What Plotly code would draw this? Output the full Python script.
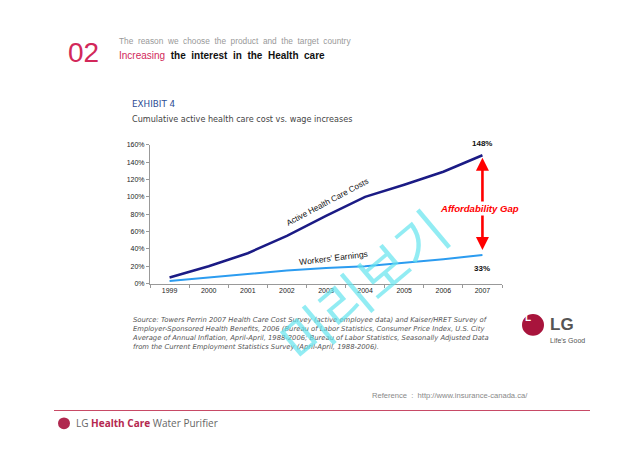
import plotly.graph_objects as go

years = ["1999", "2000", "2001", "2002", "2003", "2004", "2005", "2006", "2007"]
health_costs = [0.07, 0.20, 0.35, 0.55, 0.78, 1.00, 1.14, 1.29, 1.48]
earnings = [0.03, 0.07, 0.11, 0.15, 0.18, 0.20, 0.24, 0.28, 0.33]
y_ticks = [0, 0.2, 0.4, 0.6, 0.8, 1.0, 1.2, 1.4, 1.6]
y_tick_labels = ["0%", "20%", "40%", "60%", "80%", "100%", "120%", "140%", "160%"]

# page has an 8px body margin; figure is sized to fit the window
OFF = 8
W, H = 640 - 2 * OFF, 452 - 2 * OFF
def px(x): return (x - OFF) / W
def py(y): return 1 - (y - OFF) / H

last = len(years) - 1

fig = go.Figure()
fig.add_trace(go.Scatter(x=years, y=health_costs, mode="lines",
                         line=dict(color="#1b1b85", width=2.5), hoverinfo="skip"))
fig.add_trace(go.Scatter(x=years, y=earnings, mode="lines",
                         line=dict(color="#2c9cf0", width=2), hoverinfo="skip"))

ann = []
# header
ann.append(dict(x=px(66), y=py(49), xref="paper", yref="paper", text="02", showarrow=False,
                xanchor="left", yanchor="middle", font=dict(family="Arial", size=28, color="#d2285a")))
ann.append(dict(x=px(117), y=py(37), xref="paper", yref="paper",
                text="The  reason  we  choose  the  product  and  the  target  country", showarrow=False,
                xanchor="left", yanchor="middle", font=dict(family="Arial", size=8.3, color="#999999")))
ann.append(dict(x=px(117), y=py(52), xref="paper", yref="paper",
                text="<span style='color:#d2285a'>Increasing</span>  <b>the  interest  in  the  Health  care</b>",
                showarrow=False, xanchor="left", yanchor="middle",
                font=dict(family="Arial", size=10, color="#111111")))
# exhibit titles
ann.append(dict(x=px(130), y=py(102), xref="paper", yref="paper", text="EXHIBIT 4", showarrow=False,
                xanchor="left", yanchor="middle", font=dict(family="DejaVu Sans", size=8.8, color="#2d4d95")))
ann.append(dict(x=px(130), y=py(117), xref="paper", yref="paper",
                text="Cumulative active health care cost vs. wage increases", showarrow=False,
                xanchor="left", yanchor="middle", font=dict(family="DejaVu Sans", size=8.1, color="#444444")))
# data annotations
ann.append(dict(x=last, y=health_costs[last], xref="x", yref="y", text="<b>148%</b>", showarrow=False,
                yanchor="bottom", yshift=5, font=dict(family="Arial", size=8, color="#111111")))
ann.append(dict(x=last, y=earnings[last], xref="x", yref="y", text="<b>33%</b>", showarrow=False,
                yanchor="top", yshift=-7, font=dict(family="Arial", size=8, color="#111111")))
ann.append(dict(x=last, y=1.45, ax=last, ay=0.37, xref="x", yref="y", axref="x", ayref="y",
                text="", showarrow=True, arrowhead=2, arrowside="end+start", arrowsize=1,
                arrowwidth=2.6, arrowcolor="#ff0000"))
ann.append(dict(x=last, y=0.87, xref="x", yref="y", text="<b><i>Affordability Gap</i></b>",
                showarrow=False, bgcolor="white", xshift=-3,
                font=dict(family="Arial", size=9.6, color="#ff0000")))
ann.append(dict(x=px(327), y=py(202), xref="paper", yref="paper", text="Active Health Care Costs",
                showarrow=False, textangle=-28, font=dict(family="Arial", size=8.2, color="#111111")))
ann.append(dict(x=px(333), y=py(258), xref="paper", yref="paper", text="Workers’ Earnings",
                showarrow=False, textangle=-7, font=dict(family="Arial", size=8.5, color="#111111")))
# source
src = ("Source: Towers Perrin 2007 Health Care Cost Survey (active employee data) and Kaiser/HRET Survey of<br>"
       "Employer-Sponsored Health Benefits, 2006 (Bureau of Labor Statistics, Consumer Price Index, U.S. City<br>"
       "Average of Annual Inflation, April-April, 1988-2006; Bureau of Labor Statistics, Seasonally Adjusted Data<br>"
       "from the Current Employment Statistics Survey (April-April, 1988-2006).")
ann.append(dict(x=px(130), y=py(315), xref="paper", yref="paper", text="<i>" + src + "</i>",
                showarrow=False, xanchor="left", yanchor="top", align="left",
                font=dict(family="DejaVu Sans", size=6.8, color="#555555")))
# LG logo right
ann.append(dict(x=px(548), y=py(326), xref="paper", yref="paper", text="<b>LG</b>", showarrow=False,
                xanchor="left", yanchor="middle", font=dict(family="Arial", size=17, color="#555555")))
ann.append(dict(x=px(548), y=py(342), xref="paper", yref="paper", text="Life's Good", showarrow=False,
                xanchor="left", yanchor="middle", font=dict(family="Arial", size=7, color="#555555")))
ann.append(dict(x=px(533), y=py(326), xref="paper", yref="paper", text="<b>L</b>", showarrow=False,
                font=dict(family="Arial", size=10, color="white")))
# reference
ann.append(dict(x=px(370), y=py(398), xref="paper", yref="paper",
                text="Reference  :  http://www.insurance-canada.ca/", showarrow=False,
                xanchor="left", yanchor="middle", font=dict(family="Arial", size=7.6, color="#888888")))
# footer
ann.append(dict(x=px(74), y=py(426), xref="paper", yref="paper",
                text="LG <b><span style='color:#b5284f'>Health Care</span></b> Water Purifier", showarrow=False,
                xanchor="left", yanchor="middle", font=dict(family="Open Sans", size=10, color="#666666")))
# watermark
ann.append(dict(x=px(362), y=py(285), xref="paper", yref="paper", text="미리보기", showarrow=False,
                textangle=-40, font=dict(family="Noto Sans CJK KR", size=54, color="rgba(100,228,238,0.7)")))

shapes = [
    dict(type="line", xref="paper", yref="paper", x0=px(54), x1=px(590), y0=py(413), y1=py(413),
         line=dict(color="#c84a66", width=1.2)),
    dict(type="circle", xref="paper", yref="paper", x0=px(58), x1=px(70), y0=py(432), y1=py(420),
         fillcolor="#b0284f", line=dict(width=0)),
    dict(type="circle", xref="paper", yref="paper", x0=px(522), x1=px(544), y0=py(337), y1=py(315),
         fillcolor="#a8143c", line=dict(width=0)),
]

fig.update_layout(
    width=W, height=H, margin=dict(l=0, r=0, t=0, b=0),
    paper_bgcolor="white", plot_bgcolor="white", showlegend=False,
    annotations=ann, shapes=shapes,
    xaxis=dict(domain=[px(150), px(502)], type="category", range=[-0.5, 8.5],
               showline=True, linecolor="#999999", linewidth=1, ticks="outside",
               tickson="boundaries", ticklen=3, tickcolor="#999999", showgrid=False,
               tickfont=dict(family="Arial", size=7, color="#222222")),
    yaxis=dict(domain=[py(284), py(143)], range=[0, 1.6], tickvals=y_ticks,
               ticktext=y_tick_labels, showline=True, linecolor="#999999", linewidth=1,
               ticks="outside", ticklen=3, tickcolor="#999999", showgrid=False, zeroline=False,
               tickfont=dict(family="Arial", size=7, color="#222222")),
)

fig.write_html("out.html")
